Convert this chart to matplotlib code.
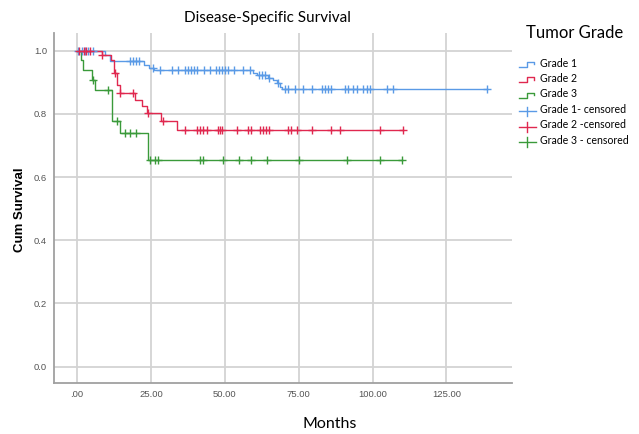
import numpy as np
import matplotlib
matplotlib.use('Agg')
import matplotlib.pyplot as plt
from matplotlib.lines import Line2D
from matplotlib.legend_handler import HandlerBase

# Kaplan-Meier steps (months, cumulative survival)
g1_times = [0, 9.5, 11.2, 22.5, 24.5, 26, 59.6, 61, 64.6, 66.4, 67.6, 68.7, 69.3]
g1_surv = [1.0, 0.986, 0.967, 0.955, 0.945, 0.939, 0.928, 0.922, 0.914, 0.907, 0.897, 0.886, 0.879]
g1_end = 138.7
g1_cens = [0.4, 1.7, 2.7, 3.7, 5.4, 18, 19, 20, 21, 25.7, 28, 32, 34, 36.5, 37.5, 38.5,
           39.5, 40.6, 43, 45, 47, 48, 49, 50, 51, 53, 56, 58.5, 61.5, 62.5, 63.5, 65, 68,
           70.5, 71.4, 73.8, 76.5, 79.5, 83, 84, 85, 86, 90.7, 91.7, 93.4, 94.7, 96.8, 98,
           99, 105, 107, 138.7]

g2_times = [0, 8.3, 11.5, 12.6, 13.6, 14.4, 19.6, 21.9, 23.7, 28.5, 33.7]
g2_surv = [1.0, 0.986, 0.971, 0.93, 0.89, 0.866, 0.844, 0.826, 0.802, 0.776, 0.75]
g2_end = 110.3
g2_cens = [0.8, 2.2, 3.2, 4.5, 8.3, 12.9, 14.6, 19, 24, 29, 36.5, 40.6, 41.6, 42.6, 44,
           47.7, 48.3, 49, 54, 58, 59, 62, 63, 64, 65, 71.4, 72.5, 74.4, 79.5, 86, 89,
           102.5, 110.3]

g3_times = [0, 1.4, 2.1, 5, 6, 11.7, 14.6, 24.1]
g3_surv = [1.0, 0.97, 0.939, 0.907, 0.876, 0.778, 0.739, 0.655]
g3_end = 110.0
g3_cens = [5.4, 10.5, 13.4, 16.2, 18, 20, 24.7, 26.4, 27.5, 41.6, 42.7, 49.5, 54.8,
           58.9, 64.2, 75.2, 91.5, 102.5, 109.9]

x_ticks = [0, 25, 50, 75, 100, 125]
x_labels = ['.00', '25.00', '50.00', '75.00', '100.00', '125.00']
y_ticks = [0.0, 0.2, 0.4, 0.6, 0.8, 1.0]
y_labels = ['0.0', '0.2', '0.4', '0.6', '0.8', '1.0']

series = [
    ('Grade 1', 'Grade 1- censored', g1_times, g1_surv, g1_end, g1_cens, '#5a9ae6'),
    ('Grade 2', 'Grade 2 -censored', g2_times, g2_surv, g2_end, g2_cens, '#e0284f'),
    ('Grade 3', 'Grade 3 - censored', g3_times, g3_surv, g3_end, g3_cens, '#3a9a3a'),
]

TXT = ['Lato', 'DejaVu Sans']
AX = ['Liberation Sans', 'DejaVu Sans']


class StepHandler(HandlerBase):
    def create_artists(self, legend, orig_handle, xdescent, ydescent, width, height, fontsize, trans):
        x0, y0, w, h = -xdescent, -ydescent, width, height
        xs = [x0, x0 + 0.5 * w, x0 + 0.5 * w, x0 + 0.9 * w, x0 + 0.9 * w]
        ys = [y0 - 0.05 * h, y0 - 0.05 * h, y0 + 0.65 * h, y0 + 0.65 * h, y0 + 0.3 * h]
        return [Line2D(xs, ys, color=orig_handle.get_color(), lw=1.0, transform=trans)]


class CrossHandler(HandlerBase):
    def create_artists(self, legend, orig_handle, xdescent, ydescent, width, height, fontsize, trans):
        x0, y0, w, h = -xdescent, -ydescent, width, height
        col = orig_handle.get_color()
        hz = Line2D([x0, x0 + w], [y0 + 0.2 * h, y0 + 0.2 * h], color=col, lw=1.0, transform=trans)
        vt = Line2D([x0 + 0.5 * w, x0 + 0.5 * w], [y0 - 0.45 * h, y0 + 0.85 * h], color=col, lw=1.0,
                    transform=trans)
        return [hz, vt]


fig = plt.figure(figsize=(6.39, 4.34), dpi=100)
ax = fig.add_axes([0.0845, 0.1175, 0.7167, 0.8065])

step_handles = []
cens_handles = []
for name, cname, t, s, end, cens, col in series:
    tt = list(t) + [end]
    ss = list(s) + [s[-1]]
    ln, = ax.step(tt, ss, where='post', color=col, lw=1.0, zorder=3)
    idx = np.searchsorted(np.array(t), np.array(cens), side='right') - 1
    cy = np.array(s)[idx]
    ax.plot(cens, cy, linestyle='none', marker='+', ms=6, mew=1.0, color=col, zorder=4)
    step_handles.append(ln)
    cens_handles.append(Line2D([], [], color=col))

ax.set_xlim(-7.8, 147.2)
ax.set_ylim(-0.052, 1.056)
ax.set_xticks(x_ticks)
ax.set_xticklabels(x_labels, family=AX, fontsize=6.8, color='#555555')
ax.set_yticks(y_ticks)
ax.set_yticklabels(y_labels, family=AX, fontsize=6.8, color='#555555')
ax.tick_params(length=0, pad=5)
ax.grid(True, color='#d3d3d3', lw=1.3)
ax.set_axisbelow(True)
for side in ('top', 'right'):
    ax.spines[side].set_visible(False)
for side in ('left', 'bottom'):
    ax.spines[side].set_color('#a0a0a0')
    ax.spines[side].set_linewidth(1.3)

fig.text(0.419, 0.958, 'Disease-Specific Survival', family=TXT, fontsize=11, ha='center', va='center')
fig.text(0.9, 0.925, 'Tumor Grade', family=TXT, fontsize=12, ha='center', va='center')
fig.text(0.516, 0.023, 'Months', family=TXT, fontsize=11.5, ha='center', va='center')
fig.text(0.031, 0.517, 'Cum Survival', family=AX, fontsize=9.5, fontweight='bold',
         rotation=90, ha='center', va='center')

labels = [s[0] for s in series] + [s[1] for s in series]
handles = step_handles + cens_handles
hmap = {h: StepHandler() for h in step_handles}
hmap.update({h: CrossHandler() for h in cens_handles})
fig.legend(handles, labels, handler_map=hmap, loc='upper left', bbox_to_anchor=(0.805, 0.877),
           frameon=False, prop={'family': TXT, 'size': 7.6}, handlelength=1.6, handletextpad=0.45,
           labelspacing=0.42, borderaxespad=0)

fig.savefig('out.png', dpi=100)
